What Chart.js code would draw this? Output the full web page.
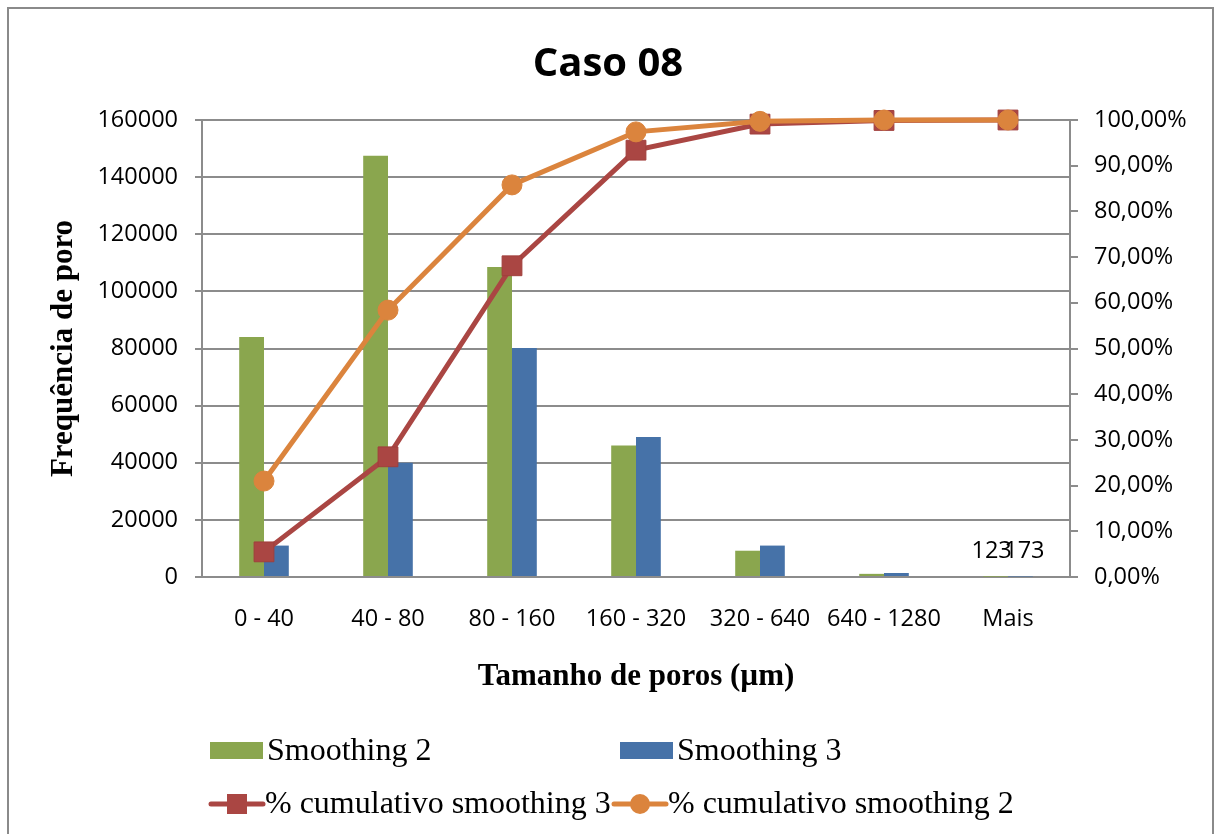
<!DOCTYPE html>
<html>
<head>
<meta charset="utf-8">
<script src="https://cdn.jsdelivr.net/npm/chart.js@4"></script>
<style>
  html, body { margin: 0; padding: 0; background: #ffffff; }
  #wrap { width: 1216px; height: 834px; position: relative; }
</style>
</head>
<body>
<div id="wrap"><canvas id="c" width="1216" height="834"></canvas></div>
<script>
// Pore size classes (µm)
const categories = ['0 - 40', '40 - 80', '80 - 160', '160 - 320', '320 - 640', '640 - 1280', 'Mais'];

// Pore counts per class
const smoothing2 = [84000, 147500, 108500, 46000, 9200, 1100, 123];
const smoothing3 = [11000, 40000, 80200, 49000, 11000, 1400, 173];

// Cumulative share (fraction of total)
const cumSmoothing3 = [0.055, 0.263, 0.681, 0.934, 0.991, 0.999, 1.0];
const cumSmoothing2 = [0.210, 0.584, 0.858, 0.974, 0.997, 1.0, 1.0];

// Axis ticks
const countTicks = [0, 20000, 40000, 60000, 80000, 100000, 120000, 140000, 160000];
const percentTicks = [0, 0.1, 0.2, 0.3, 0.4, 0.5, 0.6, 0.7, 0.8, 0.9, 1.0];

// Values printed beside the last class
const mostraValores = ['Mais'];

const GREEN = '#8aa64e';
const BLUE = '#4672a8';
const RED = '#aa4643';
const ORANGE = '#db843d';
const GRID = '#8c8c8c';
const SANS = '"Open Sans", "Noto Sans", sans-serif';
const SERIF = '"Liberation Serif", "DejaVu Serif", serif';
const TICK_SIZE = 23.5;

// Outer frame of the chart
const framePlugin = {
  id: 'frame',
  beforeDraw(chart) {
    const ctx = chart.ctx;
    ctx.save();
    ctx.fillStyle = '#ffffff';
    ctx.fillRect(0, 0, chart.width, chart.height);
    ctx.strokeStyle = '#8a8a8a';
    ctx.lineWidth = 2;
    ctx.strokeRect(8, 8, 1205, 840);
    ctx.restore();
  }
};

// Value labels for the last class
const valueLabelPlugin = {
  id: 'valueLabels',
  afterDatasetsDraw(chart) {
    const ctx = chart.ctx;
    const yScale = chart.scales.y;
    ctx.save();
    ctx.font = TICK_SIZE + 'px ' + SANS;
    ctx.fillStyle = '#000000';
    ctx.textAlign = 'center';
    ctx.textBaseline = 'middle';
    [0, 1].forEach(di => {
      const meta = chart.getDatasetMeta(di);
      const ds = chart.data.datasets[di];
      categories.forEach((cat, i) => {
        if (!mostraValores.includes(cat)) return;
        const el = meta.data[i];
        const v = ds.data[i];
        ctx.fillText(String(v), el.x + (di === 0 ? -4 : 4), yScale.getPixelForValue(v) - 25);
      });
    });
    ctx.restore();
  }
};

// Two-column legend below the axis title
const legendPlugin = {
  id: 'gridLegend',
  afterDraw(chart) {
    const ctx = chart.ctx;
    const ds = chart.data.datasets;
    const items = [
      { d: ds[0], x: 210, y: 751, kind: 'box' },
      { d: ds[1], x: 620, y: 751, kind: 'box' },
      { d: ds[2], x: 209, y: 804, kind: 'line' },
      { d: ds[3], x: 612, y: 804, kind: 'line' }
    ];
    ctx.save();
    ctx.font = '32px ' + SERIF;
    ctx.textBaseline = 'middle';
    ctx.textAlign = 'left';
    items.forEach(it => {
      if (it.kind === 'box') {
        ctx.fillStyle = it.d.backgroundColor;
        ctx.fillRect(it.x, it.y - 9, 53, 17);
        ctx.fillStyle = '#000000';
        ctx.fillText(it.d.label, it.x + 57, it.y + 1);
      } else {
        const w = 56;
        ctx.strokeStyle = it.d.borderColor;
        ctx.lineWidth = 5;
        ctx.lineCap = 'round';
        ctx.beginPath();
        ctx.moveTo(it.x + 2, it.y);
        ctx.lineTo(it.x + w - 2, it.y);
        ctx.stroke();
        ctx.fillStyle = it.d.pointBackgroundColor;
        const cx = it.x + w / 2;
        if (it.d.pointStyle === 'rect') {
          ctx.fillRect(cx - 10, it.y - 10, 20, 20);
        } else {
          ctx.beginPath();
          ctx.arc(cx, it.y, 10, 0, Math.PI * 2);
          ctx.fill();
        }
        ctx.fillStyle = '#000000';
        ctx.fillText(it.d.label, it.x + w, it.y + 1);
      }
    });
    ctx.restore();
  }
};

const fmtPercent = v => (v * 100).toFixed(2).replace('.', ',') + '%';

new Chart(document.getElementById('c'), {
  data: {
    labels: categories,
    datasets: [
      {
        type: 'bar', label: 'Smoothing 2', data: smoothing2,
        backgroundColor: GREEN, yAxisID: 'y', order: 2,
        categoryPercentage: 0.4, barPercentage: 1.0
      },
      {
        type: 'bar', label: 'Smoothing 3', data: smoothing3,
        backgroundColor: BLUE, yAxisID: 'y', order: 3,
        categoryPercentage: 0.4, barPercentage: 1.0
      },
      {
        type: 'line', label: '% cumulativo smoothing 3', data: cumSmoothing3,
        borderColor: RED, backgroundColor: RED, borderWidth: 5,
        pointStyle: 'rect', pointRadius: 14, pointBackgroundColor: RED,
        pointBorderColor: '#a03f3c', pointBorderWidth: 1,
        yAxisID: 'y1', order: 1, clip: false, tension: 0
      },
      {
        type: 'line', label: '% cumulativo smoothing 2', data: cumSmoothing2,
        borderColor: ORANGE, backgroundColor: ORANGE, borderWidth: 5,
        pointStyle: 'circle', pointRadius: 10, pointBackgroundColor: ORANGE,
        pointBorderColor: ORANGE, pointBorderWidth: 1,
        yAxisID: 'y1', order: 0, clip: false, tension: 0
      }
    ]
  },
  options: {
    responsive: false,
    animation: false,
    layout: { padding: { top: 0, left: 0, right: 0, bottom: 127 } },
    plugins: {
      legend: { display: false },
      tooltip: { enabled: false },
      title: {
        display: true,
        text: 'Caso 08',
        color: '#000000',
        font: { family: SANS, size: 40, weight: 'bold' },
        padding: { top: 41, bottom: 31 }
      }
    },
    scales: {
      x: {
        type: 'category',
        offset: true,
        grid: { display: true, drawOnChartArea: false, drawTicks: false },
        border: { display: true, color: GRID, width: 2 },
        ticks: { color: '#000000', font: { family: SANS, size: TICK_SIZE }, padding: 28, maxRotation: 0 },
        title: {
          display: true, text: 'Tamanho de poros (µm)', color: '#000000',
          font: { family: SERIF, size: 31, weight: 'bold' }, padding: { top: 0, bottom: 11 }
        },
        afterFit: s => { s.height = 130; }
      },
      y: {
        type: 'linear', position: 'left', min: 0, max: 160000,
        afterBuildTicks: s => { s.ticks = countTicks.map(v => ({ value: v })); },
        grid: { color: GRID, lineWidth: 2, tickLength: 7 },
        border: { display: true, color: GRID, width: 2 },
        ticks: { color: '#000000', font: { family: SANS, size: TICK_SIZE }, padding: 17, callback: v => String(v) },
        title: {
          display: true, text: 'Frequência de poro', color: '#000000',
          font: { family: SERIF, size: 31, weight: 'bold' }, padding: { top: 45, bottom: 0 }
        },
        afterFit: s => { s.width = 202; }
      },
      y1: {
        type: 'linear', position: 'right', min: 0, max: 1,
        afterBuildTicks: s => { s.ticks = percentTicks.map(v => ({ value: v })); },
        grid: { drawOnChartArea: false, color: GRID, lineWidth: 2, tickLength: 8 },
        border: { display: true, color: GRID, width: 2 },
        ticks: { color: '#000000', font: { family: SANS, size: TICK_SIZE }, padding: 16, callback: v => fmtPercent(v) },
        afterFit: s => { s.width = 146; }
      }
    }
  },
  plugins: [framePlugin, valueLabelPlugin, legendPlugin]
});
</script>
</body>
</html>
